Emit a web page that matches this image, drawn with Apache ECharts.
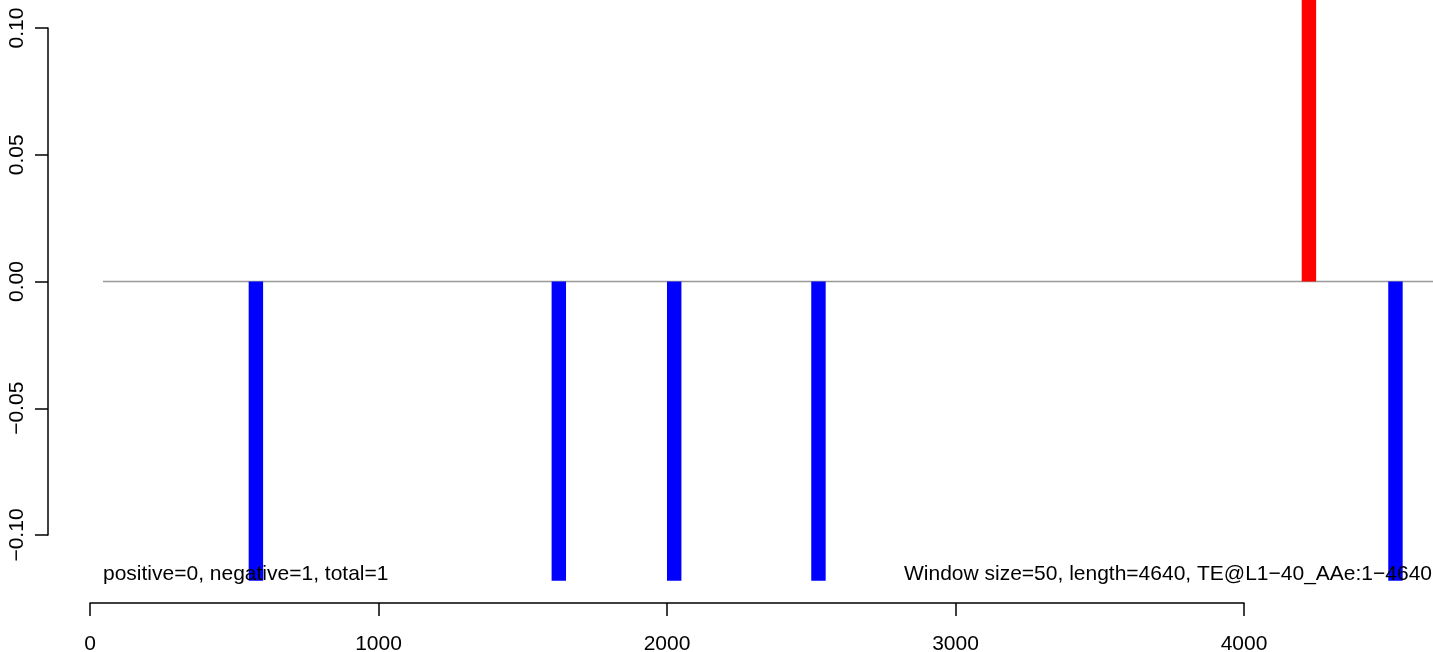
<!DOCTYPE html>
<html>
<head>
<meta charset="utf-8">
<script src="https://cdn.jsdelivr.net/npm/echarts@6/dist/echarts.min.js"></script>
<style>html,body{margin:0;padding:0;background:#fff;}#c{width:1433px;height:652px;}</style>
</head>
<body>
<div id="c"></div>
<script>
// Windows (start, end) and their values
const windowStart = [550, 1600, 2000, 2500, 4200, 4500];
const windowEnd   = [600, 1650, 2050, 2550, 4250, 4550];
const windowValue = [-0.118, -0.118, -0.118, -0.118, 0.118, -0.118];
const baselineX = [45, 4700];
const xTicks = [0, 1000, 2000, 3000, 4000];
const yTicks = [-0.10, -0.05, 0.00, 0.05, 0.10];
const leftNote = 'positive=0, negative=1, total=1';
const rightNote = 'Window size=50, length=4640, TE@L1\u221240_AAe:1\u22124640';

const FONT = '"Liberation Sans", Arial, sans-serif';
const chart = echarts.init(document.getElementById('c'), null, {renderer: 'canvas'});
const barData = windowStart.map((s, i) => [s, windowEnd[i], windowValue[i]]);

chart.setOption({
  animation: false,
  backgroundColor: '#ffffff',
  grid: {left: 90, right: 189, top: 28, bottom: 117, containLabel: false, outerBoundsMode: 'none'},
  xAxis: {
    type: 'value', min: xTicks[0], max: xTicks[xTicks.length - 1], interval: 1000,
    position: 'bottom', offset: 68,
    axisLine: {show: true, onZero: false, lineStyle: {color: '#000', width: 1.5}},
    axisTick: {show: true, length: 13, lineStyle: {color: '#000', width: 1.5}},
    axisLabel: {fontFamily: FONT, fontSize: 21, color: '#000', margin: 31, formatter: v => String(v)},
    splitLine: {show: false}
  },
  yAxis: {
    type: 'value', min: yTicks[0], max: yTicks[yTicks.length - 1], interval: 0.05,
    position: 'left', offset: 42,
    axisLine: {show: true, onZero: false, lineStyle: {color: '#000', width: 1.5}},
    axisTick: {show: true, length: 13, lineStyle: {color: '#000', width: 1.5}},
    axisLabel: {
      fontFamily: FONT, fontSize: 21, color: '#000', rotate: 90, margin: 20,
      formatter: v => (v < 0 ? '\u2212' : '') + Math.abs(v).toFixed(2)
    },
    splitLine: {show: false}
  },
  series: [
    {
      type: 'custom', data: [[baselineX[0], baselineX[1]]], clip: false, z: 1, silent: true,
      encode: {x: 0},
      renderItem: function (params, api) {
        const a = api.coord([api.value(0), 0]);
        const b = api.coord([api.value(1), 0]);
        return {
          type: 'line',
          shape: {x1: a[0], y1: a[1], x2: b[0], y2: b[1]},
          style: {stroke: '#999999', lineWidth: 1.5}
        };
      }
    },
    {
      type: 'custom', data: barData, clip: false, z: 2,
      encode: {x: [0, 1], y: 2},
      renderItem: function (params, api) {
        const s = api.value(0), e = api.value(1), v = api.value(2);
        const p0 = api.coord([s, 0]);
        const p1 = api.coord([e, v]);
        return {
          type: 'rect',
          shape: {x: p0[0], y: Math.min(p0[1], p1[1]), width: p1[0] - p0[0], height: Math.abs(p1[1] - p0[1])},
          style: {fill: v > 0 ? '#FF0000' : '#0000FF'}
        };
      }
    }
  ],
  graphic: [
    {type: 'text', x: 103, y: 574, z: 100,
     style: {text: leftNote, font: '21px ' + FONT, fill: '#000', align: 'left', verticalAlign: 'middle'}},
    {type: 'text', x: 1432, y: 574, z: 100,
     style: {text: rightNote, font: '21px ' + FONT, fill: '#000', align: 'right', verticalAlign: 'middle'}}
  ]
});
</script>
</body>
</html>
